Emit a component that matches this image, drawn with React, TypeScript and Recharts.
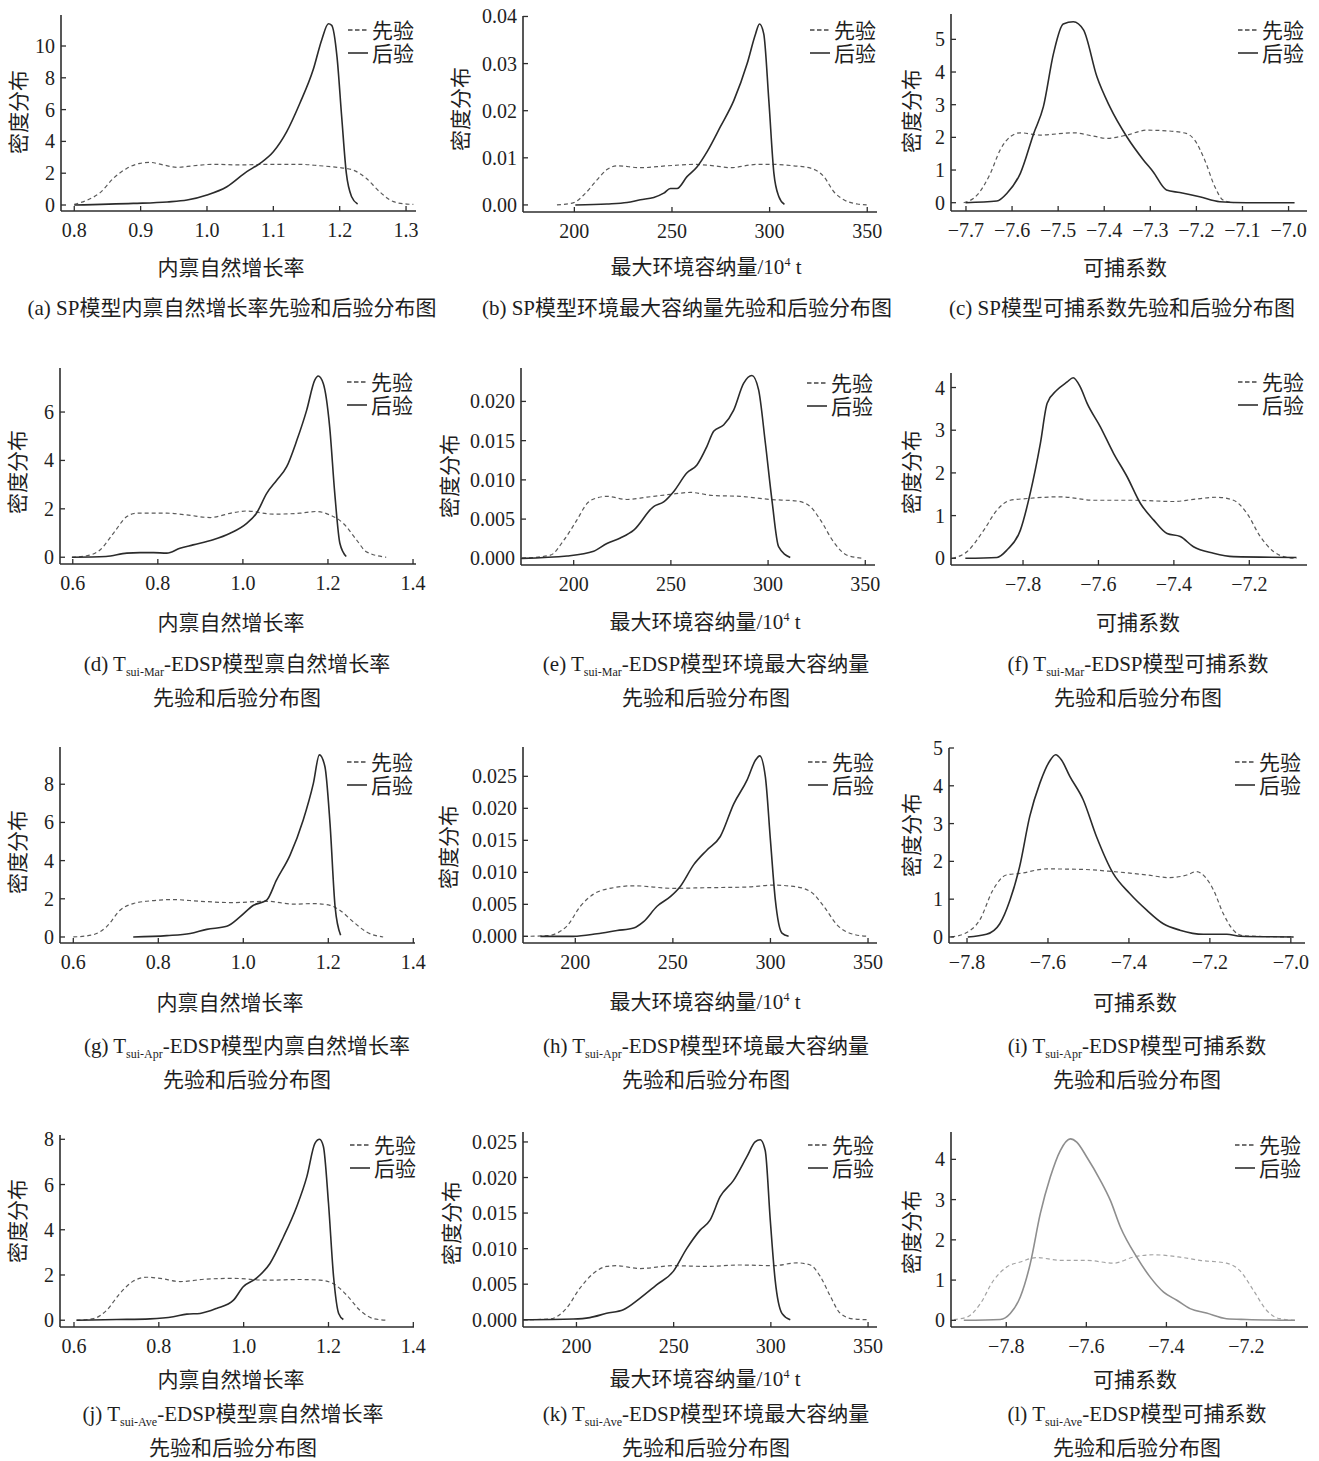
import type { ReactNode } from "react";
import { LineChart, Line, XAxis, YAxis } from "recharts";

// density curves as [parameter value, density] pairs
const aPrior = [[0.8, 0.05], [0.819, 0.3], [0.839, 0.78], [0.859, 1.68], [0.879, 2.3], [0.899, 2.62], [0.914, 2.68], [0.934, 2.52], [0.955, 2.37], [0.98, 2.47], [1.01, 2.56], [1.05, 2.52], [1.09, 2.56], [1.14, 2.56], [1.17, 2.47], [1.2, 2.35], [1.22, 2.2], [1.24, 1.68], [1.26, 0.84], [1.281, 0.21], [1.301, 0.06], [1.311, 0.04]];
const aPost = [[0.8, 0], [0.889, 0.1], [0.94, 0.19], [0.97, 0.31], [1.0, 0.63], [1.03, 1.15], [1.06, 2.1], [1.08, 2.62], [1.1, 3.35], [1.12, 4.6], [1.14, 6.4], [1.16, 8.5], [1.173, 10.4], [1.183, 11.4], [1.188, 11.3], [1.196, 9.3], [1.203, 5.55], [1.21, 2.0], [1.218, 0.52], [1.227, 0.06]];

const bPrior = [[191.1, 0], [199.7, 0.0005], [204.8, 0.0021], [211.6, 0.0053], [216.7, 0.0075], [222.1, 0.0083], [233.8, 0.0079], [247.5, 0.0083], [261.2, 0.0086], [271.4, 0.0083], [280, 0.0079], [293.6, 0.0086], [302.2, 0.0086], [312.4, 0.0083], [321, 0.0078], [327.8, 0.006], [332.9, 0.0028], [338, 0.0011], [344.9, 0.0002], [349.7, 0]];
const bPost = [[200.5, 0], [216.7, 0.0002], [227, 0.0005], [233.8, 0.0011], [240.7, 0.0016], [245.8, 0.0025], [249.2, 0.0035], [252.6, 0.0035], [257.7, 0.006], [262.9, 0.0081], [268, 0.0113], [274.8, 0.0166], [281.7, 0.0222], [288.5, 0.03], [292.8, 0.0363], [294.8, 0.0384], [297, 0.0363], [299.6, 0.0222], [302.2, 0.0067], [304.7, 0.0018], [307.6, 0.0001]];

const cPrior = [[-7.705, 0], [-7.676, 0.23], [-7.647, 0.9], [-7.626, 1.61], [-7.604, 2.02], [-7.582, 2.14], [-7.539, 2.07], [-7.467, 2.14], [-7.424, 2.04], [-7.395, 1.97], [-7.351, 2.07], [-7.308, 2.22], [-7.265, 2.2], [-7.222, 2.12], [-7.204, 1.92], [-7.182, 1.31], [-7.16, 0.49], [-7.142, 0.08], [-7.12, 0]];
const cPost = [[-7.701, 0], [-7.633, 0.05], [-7.611, 0.29], [-7.582, 0.9], [-7.553, 2.12], [-7.532, 2.94], [-7.51, 4.57], [-7.489, 5.47], [-7.467, 5.54], [-7.445, 5.29], [-7.416, 3.86], [-7.388, 2.94], [-7.351, 2.02], [-7.315, 1.31], [-7.294, 0.95], [-7.265, 0.39], [-7.236, 0.31], [-7.193, 0.18], [-7.149, 0.03], [-7.092, 0], [-6.987, 0]];

const dPrior = [[0.598, 0], [0.633, 0.06], [0.664, 0.3], [0.696, 1.0], [0.727, 1.68], [0.75, 1.82], [0.821, 1.82], [0.868, 1.75], [0.923, 1.64], [0.977, 1.84], [1.009, 1.91], [1.071, 1.78], [1.134, 1.82], [1.173, 1.89], [1.204, 1.75], [1.236, 1.4], [1.267, 0.72], [1.29, 0.23], [1.337, 0]];
const dPost = [[0.598, 0], [0.678, 0.03], [0.727, 0.17], [0.758, 0.19], [0.79, 0.19], [0.821, 0.17], [0.852, 0.37], [0.883, 0.51], [0.93, 0.72], [0.97, 0.99], [1.009, 1.4], [1.032, 1.82], [1.056, 2.64], [1.08, 3.19], [1.103, 3.74], [1.127, 4.84], [1.15, 6.08], [1.169, 7.32], [1.177, 7.49], [1.189, 7.18], [1.204, 5.39], [1.216, 2.64], [1.228, 0.58], [1.243, 0.03]];

const ePrior = [[173.4, 0], [188, 0.0004], [194.9, 0.0023], [201.7, 0.0049], [206.9, 0.007], [212, 0.0077], [217.1, 0.0079], [227.4, 0.0075], [237.7, 0.0078], [251.4, 0.0082], [260, 0.0084], [272, 0.008], [285.7, 0.0079], [301.1, 0.0075], [314.9, 0.0073], [321.7, 0.0066], [326.9, 0.0049], [333.7, 0.0021], [340.6, 0.0004], [349.1, 0]];
const ePost = [[173.4, 0], [196.6, 0.0003], [210.3, 0.0009], [217.1, 0.0019], [224, 0.0026], [230.9, 0.0036], [241.1, 0.0066], [246.3, 0.0072], [251.4, 0.0085], [258.3, 0.0109], [263.4, 0.0119], [268.6, 0.0143], [272, 0.0162], [277.1, 0.017], [282.3, 0.0189], [287.4, 0.0223], [291.7, 0.0233], [295.1, 0.0215], [298.6, 0.0147], [302, 0.0074], [305.4, 0.0015], [311.4, 0.0001]];

const fPrior = [[-7.988, 0], [-7.948, 0.16], [-7.904, 0.66], [-7.869, 1.13], [-7.834, 1.36], [-7.789, 1.4], [-7.701, 1.44], [-7.613, 1.36], [-7.507, 1.36], [-7.401, 1.33], [-7.348, 1.38], [-7.286, 1.43], [-7.242, 1.36], [-7.206, 1.05], [-7.171, 0.51], [-7.136, 0.16], [-7.1, 0.02], [-7.074, 0]];
const fPost = [[-7.953, 0], [-7.869, 0.02], [-7.842, 0.2], [-7.807, 0.66], [-7.781, 1.52], [-7.754, 2.69], [-7.736, 3.63], [-7.71, 3.94], [-7.683, 4.13], [-7.667, 4.23], [-7.648, 4.01], [-7.63, 3.63], [-7.595, 3.08], [-7.56, 2.46], [-7.524, 1.91], [-7.489, 1.29], [-7.454, 0.9], [-7.418, 0.58], [-7.383, 0.51], [-7.348, 0.27], [-7.295, 0.12], [-7.242, 0.04], [-7.075, 0.02]];

const gPrior = [[0.6, 0], [0.647, 0.12], [0.678, 0.53], [0.71, 1.4], [0.741, 1.75], [0.78, 1.89], [0.835, 1.96], [0.898, 1.87], [0.976, 1.8], [1.055, 1.87], [1.118, 1.72], [1.165, 1.75], [1.204, 1.66], [1.227, 1.4], [1.259, 0.79], [1.29, 0.26], [1.329, 0]];
const gPost = [[0.741, 0], [0.82, 0.07], [0.875, 0.18], [0.914, 0.4], [0.961, 0.56], [0.992, 1.05], [1.024, 1.66], [1.055, 1.93], [1.078, 2.98], [1.11, 4.29], [1.141, 6.13], [1.165, 8.06], [1.179, 9.54], [1.192, 8.93], [1.204, 5.95], [1.216, 1.58], [1.229, 0.09]];

const hPrior = [[173.5, 0], [185.5, 0.0001], [195.7, 0.0016], [202.6, 0.0047], [209.4, 0.0066], [219.6, 0.0076], [229.9, 0.0079], [250.4, 0.0075], [267.5, 0.0076], [288, 0.0077], [301.7, 0.008], [311.9, 0.0078], [320.5, 0.007], [327.3, 0.0047], [334.1, 0.0018], [342.7, 0.0003], [350, 0]];
const hPost = [[182.1, 0], [199.1, 0], [211.1, 0.0004], [221.4, 0.0009], [229.9, 0.0013], [235, 0.0023], [241.9, 0.0047], [248.7, 0.0062], [253.8, 0.0078], [260.7, 0.0112], [267.5, 0.0135], [274.3, 0.0156], [281.2, 0.0207], [288, 0.0244], [292.3, 0.0275], [294.5, 0.0282], [297.4, 0.0249], [300, 0.015], [302.5, 0.0057], [305.9, 0.0005], [309.3, 0]];

const iPrior = [[-7.839, 0], [-7.802, 0.11], [-7.769, 0.44], [-7.736, 1.24], [-7.703, 1.64], [-7.67, 1.68], [-7.604, 1.8], [-7.521, 1.79], [-7.439, 1.73], [-7.356, 1.64], [-7.299, 1.57], [-7.257, 1.64], [-7.233, 1.73], [-7.212, 1.59], [-7.191, 1.24], [-7.167, 0.62], [-7.142, 0.18], [-7.117, 0.03], [-6.993, 0]];
const iPost = [[-7.798, 0], [-7.752, 0.07], [-7.719, 0.35], [-7.694, 0.97], [-7.67, 1.86], [-7.645, 3.19], [-7.62, 4.07], [-7.596, 4.65], [-7.581, 4.82], [-7.567, 4.69], [-7.546, 4.25], [-7.513, 3.63], [-7.48, 2.65], [-7.439, 1.68], [-7.398, 1.15], [-7.356, 0.71], [-7.315, 0.35], [-7.274, 0.18], [-7.216, 0.07], [-7.158, 0.07], [-7.125, 0.02], [-6.993, 0]];

const jPrior = [[0.606, 0], [0.646, 0.07], [0.677, 0.44], [0.708, 1.18], [0.74, 1.73], [0.771, 1.9], [0.803, 1.85], [0.85, 1.71], [0.913, 1.82], [0.976, 1.85], [1.054, 1.77], [1.133, 1.8], [1.18, 1.77], [1.211, 1.62], [1.243, 1.11], [1.274, 0.44], [1.306, 0.07], [1.337, 0]];
const jPost = [[0.606, 0], [0.701, 0.03], [0.779, 0.06], [0.834, 0.15], [0.866, 0.27], [0.897, 0.3], [0.936, 0.52], [0.976, 0.89], [0.999, 1.48], [1.031, 1.87], [1.062, 2.51], [1.094, 3.69], [1.125, 5.02], [1.149, 6.35], [1.168, 7.82], [1.179, 8.0], [1.188, 7.68], [1.2, 5.17], [1.212, 1.92], [1.224, 0.3], [1.235, 0.03]];

const kPrior = [[172.5, 0], [186.3, 0.0001], [194.8, 0.0016], [201.7, 0.0044], [208.6, 0.0065], [215.5, 0.0075], [220.6, 0.0076], [232.6, 0.0072], [249.8, 0.0076], [267, 0.0075], [284.2, 0.0077], [301.4, 0.0076], [313.4, 0.008], [320.3, 0.0077], [325.4, 0.0061], [330.6, 0.0033], [335.7, 0.0009], [342.6, 0.0001], [350, 0]];
const kPost = [[172.5, 0], [198.3, 0.0001], [206.9, 0.0003], [215.5, 0.0009], [224.1, 0.0014], [232.6, 0.003], [241.2, 0.0049], [249.8, 0.0068], [256.7, 0.01], [263.6, 0.0126], [268.7, 0.014], [273.9, 0.0173], [280.8, 0.0196], [287.6, 0.0229], [291.9, 0.025], [294.5, 0.0253], [297.1, 0.0238], [299.7, 0.014], [302.2, 0.0056], [305.7, 0.0009], [310, 0]];

const lPrior = [[-7.931, 0.02], [-7.898, 0.08], [-7.865, 0.41], [-7.832, 0.99], [-7.798, 1.33], [-7.765, 1.45], [-7.724, 1.56], [-7.665, 1.49], [-7.599, 1.49], [-7.532, 1.42], [-7.483, 1.57], [-7.433, 1.63], [-7.366, 1.57], [-7.316, 1.49], [-7.25, 1.42], [-7.217, 1.24], [-7.183, 0.75], [-7.15, 0.25], [-7.117, 0.04], [-7.079, 0]];
const lPost = [[-7.906, 0], [-7.815, 0.02], [-7.79, 0.17], [-7.765, 0.58], [-7.74, 1.41], [-7.715, 2.65], [-7.69, 3.56], [-7.665, 4.22], [-7.64, 4.51], [-7.624, 4.43], [-7.599, 4.06], [-7.565, 3.48], [-7.54, 2.98], [-7.515, 2.32], [-7.474, 1.57], [-7.441, 1.08], [-7.407, 0.7], [-7.374, 0.5], [-7.341, 0.29], [-7.3, 0.18], [-7.25, 0.04], [-7.2, 0.02], [-7.079, 0]];

// tick labels
const xTicksRateSP = [0.8, 0.9, 1.0, 1.1, 1.2, 1.3];
const xTicksRate = [0.6, 0.8, 1.0, 1.2, 1.4];
const xTicksK = [200, 250, 300, 350];
const xTicksQSP = [-7.7, -7.6, -7.5, -7.4, -7.3, -7.2, -7.1, -7.0];
const xTicksQ = [-7.8, -7.6, -7.4, -7.2];
const xTicksQApr = [-7.8, -7.6, -7.4, -7.2, -7.0];

const yTicksA = [0, 2, 4, 6, 8, 10];
const yTicksB = [0, 0.01, 0.02, 0.03, 0.04];
const yTicksC = [0, 1, 2, 3, 4, 5];
const yTicksD = [0, 2, 4, 6];
const yTicksE = [0, 0.005, 0.01, 0.015, 0.02];
const yTicksF = [0, 1, 2, 3, 4];
const yTicksG = [0, 2, 4, 6, 8];
const yTicksH = [0, 0.005, 0.01, 0.015, 0.02, 0.025];
const yTicksI = [0, 1, 2, 3, 4, 5];

const FONT = '"Liberation Serif", "Noto Sans CJK SC", serif';
const AXIS = "#2e2e2e";
const TEXT = "#1e1e1e";

const rows = (pts: number[][]) => pts.map(([x, y]) => ({ x, y }));
const fmt = (v: number, d: number) => v.toFixed(d).replace("-", "\u2212");

const XTick = (props: any) => {
  const { x, y, payload, dec } = props;
  return (
    <g>
      <line x1={x} y1={y} x2={x} y2={y - 5} stroke={AXIS} strokeWidth={1.3} />
      <text x={x} y={y + 26} textAnchor="middle" fontSize={20} fontFamily={FONT} fill={TEXT}>
        {fmt(payload.value, dec)}
      </text>
    </g>
  );
};

const YTick = (props: any) => {
  const { x, y, payload, dec } = props;
  return (
    <g>
      <line x1={x} y1={y} x2={x + 5} y2={y} stroke={AXIS} strokeWidth={1.3} />
      <text x={x - 6} y={y + 7} textAnchor="end" fontSize={20} fontFamily={FONT} fill={TEXT}>
        {fmt(payload.value, dec)}
      </text>
    </g>
  );
};

const Sub = ({ t }: { t: string }) => (
  <span style={{ fontSize: 12, position: "relative", top: 5 }}>{t}</span>
);

const rateTitle = "内禀自然增长率";
const kTitle = (
  <>
    最大环境容纳量/10<span style={{ fontSize: 12, position: "relative", top: -8 }}>4</span> t
  </>
);
const qTitle = "可捕系数";

interface Spec {
  prior: number[][];
  post: number[][];
  box: number[];
  xDomain: number[];
  yDomain: number[];
  xTicks: number[];
  yTicks: number[];
  xDec: number;
  yDec: number;
  faded?: boolean;
  yLabelAt: number[];
  title: ReactNode;
  titleAt: number[];
  keyAt: number[];
  caption: ReactNode[];
  captionAt: number[];
}

const specs: Spec[] = [
  { prior: aPrior, post: aPost, box: [61, 15, 416, 211], xDomain: [0.78, 1.315], yDomain: [-0.377, 11.95], xTicks: xTicksRateSP, yTicks: yTicksA, xDec: 1, yDec: 0, yLabelAt: [19, 112], title: rateTitle, titleAt: [231, 268], keyAt: [348, 30], caption: ["(a) SP模型内禀自然增长率先验和后验分布图"], captionAt: [232, 308] },
  { prior: bPrior, post: bPost, box: [523, 16, 877, 212], xDomain: [173.7, 355], yDomain: [-0.0015, 0.0401], xTicks: xTicksK, yTicks: yTicksB, xDec: 0, yDec: 2, yLabelAt: [461, 109], title: kTitle, titleAt: [706, 268], keyAt: [810, 30], caption: ["(b) SP模型环境最大容纳量先验和后验分布图"], captionAt: [687, 308] },
  { prior: cPrior, post: cPost, box: [951, 14, 1307, 211], xDomain: [-7.7325, -6.96], yDomain: [-0.254, 5.776], xTicks: xTicksQSP, yTicks: yTicksC, xDec: 1, yDec: 0, yLabelAt: [912, 111], title: qTitle, titleAt: [1125, 268], keyAt: [1238, 30], caption: ["(c) SP模型可捕系数先验和后验分布图"], captionAt: [1122, 308] },

  { prior: dPrior, post: dPost, box: [60, 368, 416, 564], xDomain: [0.57, 1.407], yDomain: [-0.28, 7.82], xTicks: xTicksRate, yTicks: yTicksD, xDec: 1, yDec: 0, yLabelAt: [18, 472], title: rateTitle, titleAt: [231, 623], keyAt: [347, 382], caption: [<>(d) T<Sub t="sui-Mar" />-EDSP模型禀自然增长率</>, "先验和后验分布图"], captionAt: [237, 665] },
  { prior: ePrior, post: ePost, box: [521, 368, 875, 565], xDomain: [172.9, 355], yDomain: [-0.00085, 0.02426], xTicks: xTicksK, yTicks: yTicksE, xDec: 0, yDec: 3, yLabelAt: [450, 476], title: kTitle, titleAt: [705, 623], keyAt: [807, 383], caption: [<>(e) T<Sub t="sui-Mar" />-EDSP模型环境最大容纳量</>, "先验和后验分布图"], captionAt: [706, 665] },
  { prior: fPrior, post: fPost, box: [951, 373, 1307, 565], xDomain: [-7.991, -7.047], yDomain: [-0.157, 4.34], xTicks: xTicksQ, yTicks: yTicksF, xDec: 1, yDec: 0, yLabelAt: [912, 472], title: qTitle, titleAt: [1138, 623], keyAt: [1238, 382], caption: [<>(f) T<Sub t="sui-Mar" />-EDSP模型可捕系数</>, "先验和后验分布图"], captionAt: [1138, 665] },

  { prior: gPrior, post: gPost, box: [60, 747, 415, 943], xDomain: [0.5687, 1.404], yDomain: [-0.315, 9.95], xTicks: xTicksRate, yTicks: yTicksG, xDec: 1, yDec: 0, yLabelAt: [18, 852], title: rateTitle, titleAt: [230, 1003], keyAt: [347, 762], caption: [<>(g) T<Sub t="sui-Apr" />-EDSP模型内禀自然增长率</>, "先验和后验分布图"], captionAt: [247, 1047] },
  { prior: hPrior, post: hPost, box: [523, 747, 877, 943], xDomain: [173.2, 354.6], yDomain: [-0.00104, 0.02958], xTicks: xTicksK, yTicks: yTicksH, xDec: 0, yDec: 3, yLabelAt: [449, 847], title: kTitle, titleAt: [705, 1003], keyAt: [808, 762], caption: [<>(h) T<Sub t="sui-Apr" />-EDSP模型环境最大容纳量</>, "先验和后验分布图"], captionAt: [706, 1047] },
  { prior: iPrior, post: iPost, box: [949, 748, 1305, 943], xDomain: [-7.8445, -6.965], yDomain: [-0.16, 5.0], xTicks: xTicksQApr, yTicks: yTicksI, xDec: 1, yDec: 0, yLabelAt: [912, 835], title: qTitle, titleAt: [1135, 1003], keyAt: [1235, 762], caption: [<>(i) T<Sub t="sui-Apr" />-EDSP模型可捕系数</>, "先验和后验分布图"], captionAt: [1137, 1047] },

  { prior: jPrior, post: jPost, box: [60, 1135, 414, 1327], xDomain: [0.567, 1.4016], yDomain: [-0.3, 8.19], xTicks: xTicksRate, yTicks: yTicksG, xDec: 1, yDec: 0, yLabelAt: [18, 1221], title: rateTitle, titleAt: [231, 1380], keyAt: [350, 1145], caption: [<>(j) T<Sub t="sui-Ave" />-EDSP模型禀自然增长率</>, "先验和后验分布图"], captionAt: [233, 1415] },
  { prior: kPrior, post: kPost, box: [523, 1132, 877, 1327], xDomain: [172.5, 354.6], yDomain: [-0.00102, 0.0264], xTicks: xTicksK, yTicks: yTicksH, xDec: 0, yDec: 3, yLabelAt: [452, 1223], title: kTitle, titleAt: [705, 1380], keyAt: [808, 1145], caption: [<>(k) T<Sub t="sui-Ave" />-EDSP模型环境最大容纳量</>, "先验和后验分布图"], captionAt: [706, 1415] },
  { prior: lPrior, post: lPost, box: [951, 1132, 1308, 1327], xDomain: [-7.938, -7.0464], yDomain: [-0.166, 4.68], xTicks: xTicksQ, yTicks: yTicksF, xDec: 1, yDec: 0, faded: true, yLabelAt: [912, 1232], title: qTitle, titleAt: [1135, 1380], keyAt: [1235, 1145], caption: [<>(l) T<Sub t="sui-Ave" />-EDSP模型可捕系数</>, "先验和后验分布图"], captionAt: [1137, 1415] },
];

const textStyle = {
  position: "absolute" as const,
  whiteSpace: "nowrap" as const,
  fontFamily: FONT,
  fontSize: 21,
  lineHeight: "24px",
  color: TEXT,
};

const Key = ({ at }: { at: number[] }) => (
  <svg style={{ position: "absolute", left: at[0], top: at[1] - 12 }} width={72} height={48}>
    <line x1={0} y1={12} x2={20} y2={12} stroke="#444" strokeWidth={1.3} strokeDasharray="4.5 2.5" />
    <text x={24} y={19.5} fontSize={21} fontFamily={FONT} fill={TEXT}>先验</text>
    <line x1={0} y1={35} x2={20} y2={35} stroke="#222" strokeWidth={1.5} />
    <text x={24} y={42.5} fontSize={21} fontFamily={FONT} fill={TEXT}>后验</text>
  </svg>
);

const TOP = 16;

const Panel = ({ p }: { p: Spec }) => {
  const [l, t, r, b] = p.box;
  const solid = p.faded ? "#8e8e8e" : "#2b2b2b";
  const dashed = p.faded ? "#a4a4a4" : "#5a5a5a";
  return (
    <>
      <div style={{ position: "absolute", left: l - 70, top: t - TOP }}>
        <LineChart width={r - l + 90} height={b - t + TOP + 35} margin={{ top: TOP, right: 20, bottom: 0, left: 0 }}>
          <XAxis
            dataKey="x"
            type="number"
            domain={p.xDomain}
            ticks={p.xTicks}
            interval={0}
            allowDataOverflow
            height={35}
            tickSize={0}
            tickMargin={0}
            tickLine={false}
            axisLine={{ stroke: AXIS, strokeWidth: 1.6 }}
            tick={(tp: any) => <XTick {...tp} dec={p.xDec} />}
          />
          <YAxis
            type="number"
            domain={p.yDomain}
            ticks={p.yTicks}
            interval={0}
            allowDataOverflow
            width={70}
            tickSize={0}
            tickMargin={0}
            tickLine={false}
            axisLine={{ stroke: AXIS, strokeWidth: 1.6 }}
            tick={(tp: any) => <YTick {...tp} dec={p.yDec} />}
          />
          <Line data={rows(p.prior)} dataKey="y" type="monotone" stroke={dashed} strokeWidth={1.2} strokeDasharray="4 3" dot={false} isAnimationActive={false} />
          <Line data={rows(p.post)} dataKey="y" type="monotone" stroke={solid} strokeWidth={1.6} dot={false} isAnimationActive={false} />
        </LineChart>
      </div>
      <Key at={p.keyAt} />
      <div style={{ ...textStyle, left: p.yLabelAt[0], top: p.yLabelAt[1], transform: "translate(-50%, -50%) rotate(-90deg)" }}>
        密度分布
      </div>
      <div style={{ ...textStyle, left: p.titleAt[0], top: p.titleAt[1], transform: "translate(-50%, -50%)" }}>
        {p.title}
      </div>
      {p.caption.map((line, i) => (
        <div key={i} style={{ ...textStyle, left: p.captionAt[0], top: p.captionAt[1] + i * 33, transform: "translate(-50%, -50%)" }}>
          {line}
        </div>
      ))}
    </>
  );
};

export default function App() {
  return (
    <div style={{ position: "absolute", left: 0, top: 0, width: 1319, height: 1461, background: "#fff", overflow: "hidden" }}>
      {specs.map((p, i) => (
        <Panel key={i} p={p} />
      ))}
    </div>
  );
}
